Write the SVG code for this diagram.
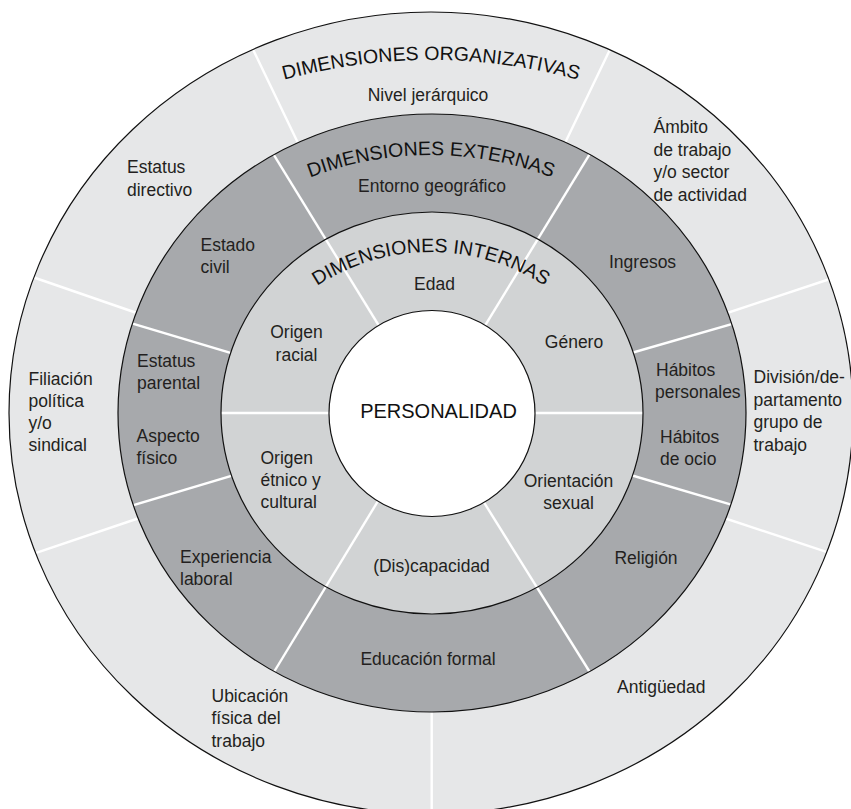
<svg xmlns="http://www.w3.org/2000/svg" xmlns:xlink="http://www.w3.org/1999/xlink" width="851" height="809" viewBox="0 0 851 809">
  <defs>
    <style>
      .lbl { font-family: "Liberation Sans", Arial, sans-serif; font-size: 17.5px; fill: #231f20; }
      .mid { text-anchor: middle; }
      .ttl { font-family: "Liberation Sans", Arial, sans-serif; font-size: 19.5px; fill: #111; }
      .sep { stroke: #ffffff; stroke-width: 2.4; fill: none; }
      .rim { fill: none; stroke: #111; stroke-width: 1.2; }
    </style>
    <clipPath id="cOut"><ellipse cx="431" cy="413" rx="422" ry="401"/></clipPath>
    <clipPath id="cExt"><ellipse cx="432" cy="413" rx="314" ry="299"/></clipPath>
    <clipPath id="cInt"><ellipse cx="432" cy="413" rx="211" ry="201"/></clipPath>
    <path id="arcOrg" d="M181,119.7 A553,553 0 0,1 681,119.7"/>
    <path id="arcExt" d="M231,220.8 A337,337 0 0,1 631,220.8"/>
    <path id="arcInt" d="M251,355.8 A208,208 0 0,1 611,355.8"/>
  </defs>

  <rect width="851" height="809" fill="#ffffff"/>

  <g id="ring-organizativas">
    <ellipse cx="431" cy="413" rx="422" ry="401" fill="#e6e7e8"/>
  </g>
  <g id="connectors-organizativas" clip-path="url(#cOut)">
    <line class="sep" x1="248" y1="39" x2="310" y2="168"/>
    <line class="sep" x1="615" y1="39" x2="553" y2="168"/>
    <line class="sep" x1="845" y1="274" x2="700" y2="322"/>
    <line class="sep" x1="845" y1="558" x2="700" y2="510"/>
    <line class="sep" x1="431.7" y1="690" x2="431.7" y2="830"/>
    <line class="sep" x1="18" y1="559" x2="160" y2="511"/>
    <line class="sep" x1="18" y1="272" x2="160" y2="321"/>
  </g>

  <g id="ring-externas">
    <ellipse cx="432" cy="413" rx="314" ry="299" fill="#a7a9ac"/>
  </g>
  <g id="connectors-externas" clip-path="url(#cExt)">
    <line class="sep" x1="770" y1="313" x2="600" y2="362"/>
    <line class="sep" x1="770" y1="516" x2="600" y2="466"/>
    <line class="sep" x1="94" y1="517" x2="264" y2="466"/>
    <line class="sep" x1="94" y1="312" x2="264" y2="363"/>
  </g>

  <g id="ring-internas">
    <ellipse cx="432" cy="413" rx="211" ry="201" fill="#d1d3d4"/>
  </g>
  <g id="connectors-through" clip-path="url(#cExt)">
    <line class="sep" x1="262" y1="135.7" x2="400" y2="360"/>
    <line class="sep" x1="601" y1="135.7" x2="464" y2="360"/>
    <line class="sep" x1="601" y1="690" x2="470" y2="480"/>
    <line class="sep" x1="263" y1="690" x2="392" y2="478"/>
  </g>
  <g id="connectors-internas" clip-path="url(#cInt)">
    <line class="sep" x1="200" y1="413" x2="380" y2="413"/>
    <line class="sep" x1="480" y1="413" x2="664" y2="413"/>
  </g>

  <g id="node-personalidad">
    <circle cx="432" cy="413.5" r="103" fill="#ffffff"/>
  </g>

  <g id="rims">
    <ellipse class="rim" cx="431" cy="413" rx="422" ry="401"/>
    <ellipse class="rim" cx="432" cy="413" rx="314" ry="299"/>
    <ellipse class="rim" cx="432" cy="413" rx="211" ry="201"/>
    <circle class="rim" cx="432" cy="413.5" r="103"/>
  </g>

  <g id="titles">
    <text class="ttl"><textPath xlink:href="#arcOrg" href="#arcOrg" startOffset="50%" text-anchor="middle">DIMENSIONES ORGANIZATIVAS</textPath></text>
    <text class="ttl"><textPath xlink:href="#arcExt" href="#arcExt" startOffset="50%" text-anchor="middle">DIMENSIONES EXTERNAS</textPath></text>
    <text class="ttl"><textPath xlink:href="#arcInt" href="#arcInt" startOffset="50%" text-anchor="middle">DIMENSIONES INTERNAS</textPath></text>
  </g>

  <g id="labels-organizativas">
    <g id="n-nivel"><text class="lbl mid" x="428" y="101">Nivel jerárquico</text></g>
    <g id="n-estatus-directivo"><text class="lbl" x="127" y="173.3">Estatus</text><text class="lbl" x="127" y="196">directivo</text></g>
    <g id="n-ambito"><text class="lbl" x="653.5" y="132.7">Ámbito</text><text class="lbl" x="653.5" y="156">de trabajo</text><text class="lbl" x="653.5" y="178.3">y/o sector</text><text class="lbl" x="653.5" y="200.7">de actividad</text></g>
    <g id="n-filiacion"><text class="lbl" x="28.5" y="384.5">Filiación</text><text class="lbl" x="28.5" y="407">política</text><text class="lbl" x="28.5" y="429">y/o</text><text class="lbl" x="28.5" y="451">sindical</text></g>
    <g id="n-division"><text class="lbl" x="753.5" y="383.3">División/de-</text><text class="lbl" x="753.5" y="405.7">partamento</text><text class="lbl" x="753.5" y="428.3">grupo de</text><text class="lbl" x="753.5" y="450.7">trabajo</text></g>
    <g id="n-antiguedad"><text class="lbl" x="617" y="693.3">Antigüedad</text></g>
    <g id="n-ubicacion"><text class="lbl" x="211.5" y="701.7">Ubicación</text><text class="lbl" x="211.5" y="724">física del</text><text class="lbl" x="211.5" y="746.7">trabajo</text></g>
  </g>

  <g id="labels-externas">
    <g id="n-entorno"><text class="lbl mid" x="432" y="192.3">Entorno geográfico</text></g>
    <g id="n-estado-civil"><text class="lbl" x="200.5" y="250.7">Estado</text><text class="lbl" x="200.5" y="272.7">civil</text></g>
    <g id="n-ingresos"><text class="lbl" x="609" y="268.3">Ingresos</text></g>
    <g id="n-habitos-personales"><text class="lbl" x="656" y="376">Hábitos</text><text class="lbl" x="655" y="398.3">personales</text></g>
    <g id="n-habitos-ocio"><text class="lbl" x="660" y="442.7">Hábitos</text><text class="lbl" x="660" y="465">de ocio</text></g>
    <g id="n-estatus-parental"><text class="lbl" x="137" y="366.7">Estatus</text><text class="lbl" x="137" y="389.3">parental</text></g>
    <g id="n-aspecto"><text class="lbl" x="136.5" y="441.7">Aspecto</text><text class="lbl" x="136.5" y="464">físico</text></g>
    <g id="n-experiencia"><text class="lbl" x="180" y="563.3">Experiencia</text><text class="lbl" x="180" y="585">laboral</text></g>
    <g id="n-educacion"><text class="lbl mid" x="428" y="665">Educación formal</text></g>
    <g id="n-religion"><text class="lbl mid" x="646" y="564.3">Religión</text></g>
  </g>

  <g id="labels-internas">
    <g id="n-edad"><text class="lbl mid" x="434.5" y="290">Edad</text></g>
    <g id="n-origen-racial"><text class="lbl mid" x="296.5" y="338.3">Origen</text><text class="lbl mid" x="296.5" y="360.7">racial</text></g>
    <g id="n-genero"><text class="lbl mid" x="574" y="348.3">Género</text></g>
    <g id="n-origen-etnico"><text class="lbl" x="260.5" y="464">Origen</text><text class="lbl" x="260.5" y="486">étnico y</text><text class="lbl" x="260.5" y="508.3">cultural</text></g>
    <g id="n-orientacion"><text class="lbl mid" x="568.5" y="487.3">Orientación</text><text class="lbl mid" x="568.5" y="509.3">sexual</text></g>
    <g id="n-discapacidad"><text class="lbl mid" x="431.5" y="571.7">(Dis)capacidad</text></g>
  </g>

  <g id="label-personalidad">
    <text x="438.5" y="418" text-anchor="middle" font-family="Liberation Sans, Arial, sans-serif" font-size="20" fill="#111">PERSONALIDAD</text>
  </g>
</svg>
